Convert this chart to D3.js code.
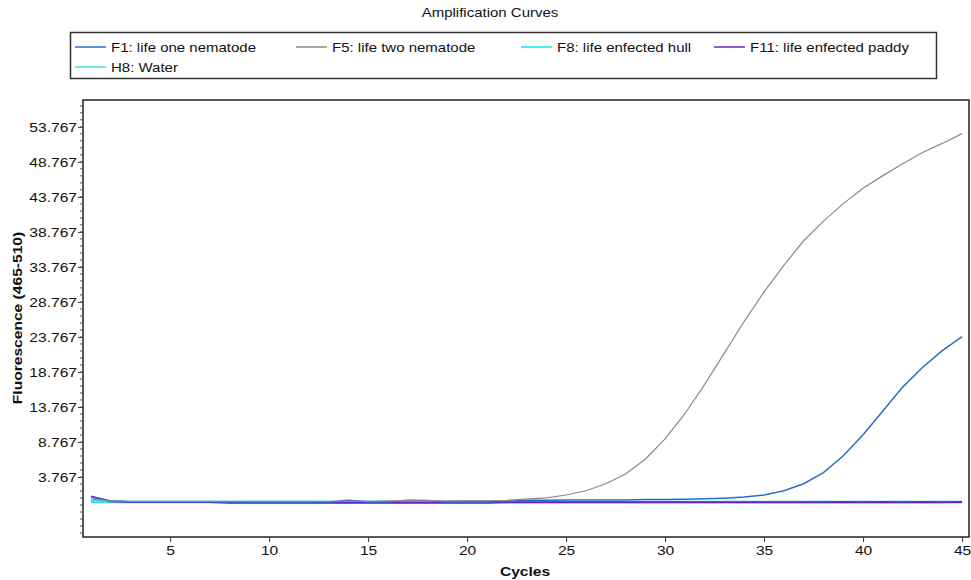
<!DOCTYPE html>
<html><head><meta charset="utf-8">
<script src="https://cdn.jsdelivr.net/npm/d3@7"></script>
<style>body{margin:0;background:#fff;font-family:"Liberation Sans",Arial,sans-serif;}</style>
</head><body><svg id="c" width="971" height="580"></svg>
<script>
const cycles = [1,2,3,4,5,6,7,8,9,10,11,12,13,14,15,16,17,18,19,20,21,22,23,24,25,26,27,28,29,30,31,32,33,34,35,36,37,38,39,40,41,42,43,44,45];
const seriesNames = ["F1: life one nematode","F5: life two nematode","F8: life enfected hull","F11: life enfected paddy","H8: Water"];
const seriesColors = ["#2a6fc4","#8a8a8a","#10e4f0","#6a20c8","#40e0ee"];
const F1 = [0.9,0.3,0.25,0.25,0.25,0.25,0.25,0.2,0.15,0.15,0.15,0.15,0.2,0.45,0.25,0.2,0.45,0.4,0.2,0.2,0.2,0.3,0.45,0.45,0.5,0.5,0.5,0.5,0.55,0.55,0.6,0.65,0.75,0.9,1.2,1.8,2.8,4.4,6.8,9.8,13.2,16.6,19.4,21.8,23.8];
const F5 = [0.6,0.35,0.3,0.3,0.3,0.3,0.3,0.3,0.3,0.3,0.3,0.3,0.3,0.3,0.3,0.35,0.35,0.35,0.35,0.4,0.4,0.45,0.6,0.8,1.2,1.8,2.8,4.2,6.3,9.2,12.8,17.0,21.5,26.0,30.2,34.0,37.5,40.3,42.8,45.0,46.8,48.5,50.1,51.4,52.8];
const F8 = [0.25,0.2,0.2,0.2,0.2,0.2,0.2,0.2,0.2,0.2,0.2,0.2,0.2,0.2,0.2,0.2,0.2,0.2,0.2,0.2,0.2,0.2,0.2,0.2,0.2,0.2,0.2,0.2,0.2,0.2,0.2,0.2,0.2,0.2,0.2,0.2,0.2,0.2,0.2,0.2,0.2,0.2,0.2,0.2,0.2];
const F11 = [1.0,0.3,0.2,0.2,0.2,0.2,0.2,0.1,0.1,0.1,0.1,0.1,0.1,0.1,0.1,0.1,0.1,0.1,0.1,0.1,0.1,0.15,0.15,0.15,0.15,0.15,0.15,0.15,0.15,0.15,0.15,0.15,0.15,0.15,0.15,0.15,0.15,0.15,0.2,0.15,0.2,0.15,0.2,0.15,0.2];
const H8 = [0.3,0.25,0.2,0.2,0.2,0.2,0.2,0.15,0.15,0.15,0.15,0.15,0.15,0.15,0.25,0.15,0.15,0.25,0.15,0.15,0.15,0.25,0.2,0.2,0.2,0.2,0.2,0.2,0.2,0.2,0.2,0.2,0.2,0.2,0.2,0.2,0.2,0.25,0.15,0.25,0.15,0.25,0.15,0.25,0.15];
const yTicks = [3.767,8.767,13.767,18.767,23.767,28.767,33.767,38.767,43.767,48.767,53.767];
const xTicks = [5,10,15,20,25,30,35,40,45];

const SX = 1.2;
const svg = d3.select("#c");
const L=83,R=969,T=100,B=537;
const x = d3.scaleLinear().domain([0.6,45.35]).range([L,R]);
const y = d3.scaleLinear().domain([-4.8,57.6]).range([B,T]);

function stext(px,py,str,size,anchor,bold,rot){
  const gg = svg.append("g").attr("transform",`translate(${px},${py})`+(rot?` rotate(${rot})`:"")+` scale(${SX},1)`);
  return gg.append("text").attr("x",0).attr("y",0).attr("text-anchor",anchor||"start").attr("font-size",size).attr("font-weight",bold?"bold":"normal").attr("fill","#111").text(str);
}

stext(490,17,"Amplification Curves",12.5,"middle");

// legend
svg.append("rect").attr("x",70.5).attr("y",32.5).attr("width",866).attr("height",46).attr("fill","#fff").attr("stroke","#333").attr("stroke-width",1.5);
const legPos = [[75,47],[296,47],[521,47],[714,47],[75,67]];
seriesNames.forEach((n,i)=>{
  const [lx,ly]=legPos[i];
  svg.append("line").attr("x1",lx).attr("x2",lx+31).attr("y1",ly).attr("y2",ly).attr("stroke",seriesColors[i]).attr("stroke-width",1.5);
  stext(lx+36,ly+4.5,n,12.5,"start");
});

// clip
svg.append("clipPath").attr("id","cp").append("rect").attr("x",L).attr("y",T).attr("width",R-L).attr("height",B-T);
const g = svg.append("g").attr("clip-path","url(#cp)");
const line = d3.line().x((d,i)=>x(cycles[i])).y(d=>y(d));
const drawOrder = [[2,F8,2.5],[4,H8,2],[3,F11,2],[0,F1,1.5],[1,F5,1.2]];
drawOrder.forEach(([i,data,w])=>{
  g.append("path").datum(data).attr("d",line).attr("fill","none").attr("stroke",seriesColors[i]).attr("stroke-width",w);
});

// frame
svg.append("rect").attr("x",L).attr("y",T).attr("width",R-L).attr("height",B-T).attr("fill","none").attr("stroke","#222").attr("stroke-width",1.5);

// y axis
const yAx = svg.append("g").attr("transform",`translate(${L},0)`).call(d3.axisLeft(y).tickValues(yTicks).tickFormat(d=>d.toFixed(3)).tickSize(5).tickPadding(1));
yAx.select(".domain").remove();
yAx.selectAll("text").attr("font-size",13).attr("font-family","Liberation Sans, Arial, sans-serif").attr("fill","#111")
  .attr("transform",`scale(${SX},1)`).attr("x",-6/SX);
yAx.selectAll("line").attr("stroke","#333");
const yMinor = d3.range(-4.233,57.6,1).filter(v=>v>-4.8);
svg.append("g").selectAll("line").data(yMinor).join("line").attr("x1",L-3).attr("x2",L).attr("y1",d=>y(d)).attr("y2",d=>y(d)).attr("stroke","#555");

// x axis
const xAx = svg.append("g").attr("transform",`translate(0,${B})`).call(d3.axisBottom(x).tickValues(xTicks).tickFormat(d3.format("d")).tickSize(5).tickPadding(4));
xAx.select(".domain").remove();
xAx.selectAll("text").attr("font-size",13).attr("font-family","Liberation Sans, Arial, sans-serif").attr("fill","#111");
xAx.selectAll(".tick").each(function(){
  const t=d3.select(this).select("text");
  t.attr("transform",`scale(${SX},1)`);
});
xAx.selectAll("line").attr("stroke","#333");

stext(525,576,"Cycles",13,"middle",true);
stext(22,318,"Fluorescence (465-510)",13,"middle",true,-90);
</script></body></html>
